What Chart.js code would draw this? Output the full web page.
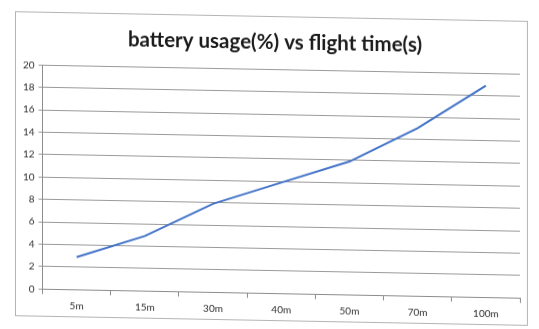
<!DOCTYPE html>
<html>
<head>
<meta charset="utf-8">
<title>battery usage vs flight time</title>
<script src="https://cdn.jsdelivr.net/npm/chart.js@4/dist/chart.umd.min.js"></script>
<style>
  html, body { margin: 0; padding: 0; background: #ffffff; }
  #wrap { width: 539px; height: 329px; overflow: hidden; }
  #chart {
    display: block;
    transform: skewY(1.08deg);
    transform-origin: 269.5px 164.5px;
  }
</style>
</head>
<body>
<div id="wrap"><canvas id="chart" width="539" height="329"></canvas></div>
<script>
// flight time categories and battery usage (%) per category
const flightTimes = ['5m', '15m', '30m', '40m', '50m', '70m', '100m'];
const batteryUsage = [2.9, 4.9, 7.9, 9.9, 11.9, 15.0, 18.9];
const yTicks = [0, 2, 4, 6, 8, 10, 12, 14, 16, 18, 20];
const chartTitle = 'battery usage(%) vs flight time(s)';

// white background, thin grey frame and the centred title
const frame = {
  id: 'frame',
  beforeDraw(chart) {
    const c = chart.ctx;
    c.save();
    c.fillStyle = '#ffffff';
    c.fillRect(0, 0, chart.width, chart.height);
    c.strokeStyle = '#b4b4b4';
    c.lineWidth = 1;
    c.strokeRect(15.5, 16.5, 512, 304);
    c.fillStyle = '#1a1a1a';
    c.font = 'bold 20.5px Lato';
    c.textAlign = 'center';
    c.textBaseline = 'middle';
    c.fillText(chartTitle, 275, 42);
    c.restore();
  }
};

new Chart(document.getElementById('chart'), {
  type: 'line',
  data: {
    labels: flightTimes,
    datasets: [{
      data: batteryUsage,
      borderColor: '#4474c8',
      borderWidth: 2,
      pointRadius: 0,
      tension: 0,
      fill: false
    }]
  },
  options: {
    responsive: false,
    animation: false,
    events: [],
    layout: { padding: { left: 0, right: 19, top: 69.3, bottom: 0 } },
    plugins: {
      legend: { display: false },
      tooltip: { enabled: false },
      title: { display: false }
    },
    scales: {
      x: {
        offset: true,
        grid: {
          offset: true,
          drawOnChartArea: false,
          drawTicks: true,
          tickLength: 5,
          color: '#8c8c8c'
        },
        border: { color: '#8c8c8c', width: 1 },
        ticks: {
          color: '#2e2e2e',
          padding: 5,
          maxRotation: 0,
          font: { family: 'Lato', size: 10 }
        },
        afterFit(scale) { scale.height = 35.7; }
      },
      y: {
        min: 0,
        max: 20,
        afterBuildTicks(scale) { scale.ticks = yTicks.map(v => ({ value: v })); },
        grid: { color: '#9a9a9a', tickLength: 4, lineWidth: 1 },
        border: { color: '#8c8c8c', width: 1 },
        ticks: {
          color: '#2e2e2e',
          padding: 4,
          font: { family: 'Lato', size: 10 }
        },
        afterFit(scale) { scale.width = 42.5; }
      }
    }
  },
  plugins: [frame]
});
</script>
</body>
</html>
